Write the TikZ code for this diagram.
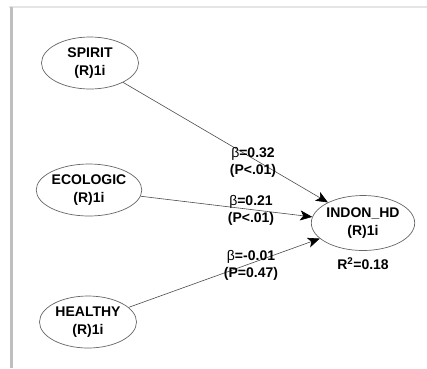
\documentclass[tikz,border=0pt]{standalone}
\usepackage{fontspec}
\setmainfont{Liberation Sans}
\usetikzlibrary{shapes.geometric,arrows.meta}
\newcommand{\bt}{{\mdseries β}}
\begin{document}
\begin{tikzpicture}[x=1pt,y=1pt,
  lv/.style={ellipse,draw=black!60,line width=0.7pt,minimum width=97pt,minimum height=52pt,inner sep=0pt,align=center,
    font=\fontsize{14}{18}\selectfont\bfseries,text=black},
  path/.style={draw=black!70,line width=0.6pt,-{Stealth[length=12pt,width=10pt,inset=3pt,black]}},
  coef/.style={align=center,font=\fontsize{14}{17}\selectfont\bfseries,text=black,inner sep=0pt}]
\useasboundingbox (0,0) rectangle (427,-368);
\fill[white] (0,0) rectangle (427,-368);
\draw[black!10,line width=2pt] (9,-7) -- (427,-7);
\draw[black!25,line width=3pt] (11,-7) -- (11,-368);
\node[lv] (spirit) at (90,-63) {SPIRIT\\(R)1i};
\node[lv] (ecologic) at (89,-190) {ECOLOGIC\\(R)1i};
\node[lv] (healthy) at (88,-322) {HEALTHY\\(R)1i};
\node[lv,minimum height=55pt] (indon) at (363,-223) {INDON\_HD\\(R)1i};
\draw[path] (spirit) -- (indon);
\draw[path] (ecologic) -- (indon);
\draw[path] (healthy) -- (indon);
\node[coef] (c1) at (253,-162) {\bt=0.32\\(P<.01)};
\node[coef] (c2) at (251,-210) {\bt=0.21\\(P<.01)};
\node[coef] (c3) at (251,-265) {\bt=-0.01\\(P=0.47)};
\node[coef] (r2) at (363,-264) {R\textsuperscript{2}=0.18};
\end{tikzpicture}
\end{document}
